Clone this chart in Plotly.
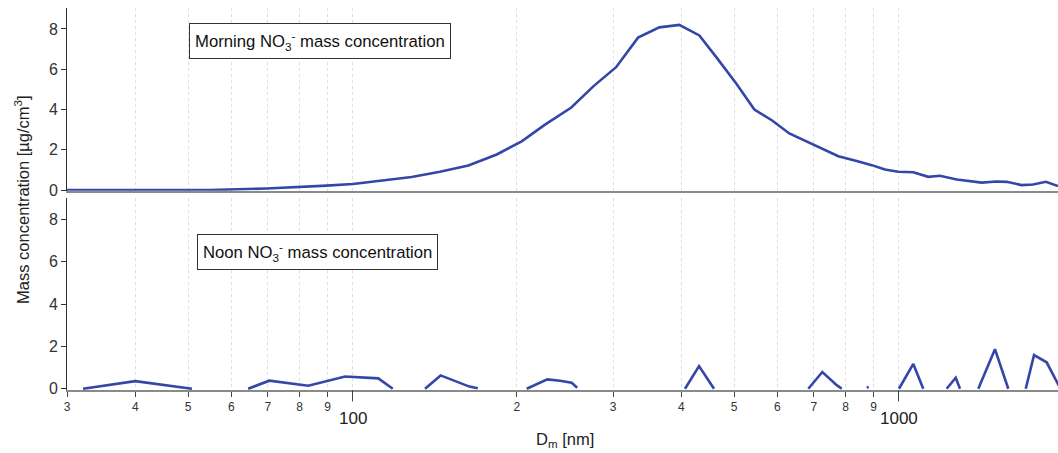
import math
import plotly.graph_objects as go
from plotly.subplots import make_subplots

# Morning NO3- mass size distribution (Dm in nm, mass in ug/cm3)
morning_dm = [30, 44.4, 54.8, 69.6, 80.1, 89.7, 100.2, 113.7, 128.3, 144.6, 163.0, 183.7,
              204.1, 225.2, 251.6, 276.1, 303.9, 333.4, 364.7, 396.7, 431.8, 465.2, 504.0,
              544.5, 586.0, 631.0, 698.2, 775.9, 838.3, 893.0, 944.7, 999.0, 1064.4, 1133.9,
              1191.0, 1278.3, 1420.5, 1512.6, 1577.7, 1681.0, 1763.0, 1862.0, 1959.5]
morning_mass = [0.0, 0.01, 0.0, 0.08, 0.15, 0.22, 0.30, 0.47, 0.65, 0.91, 1.22, 1.77,
                2.42, 3.25, 4.10, 5.15, 6.10, 7.57, 8.08, 8.20, 7.68, 6.55, 5.30,
                4.00, 3.47, 2.81, 2.26, 1.68, 1.44, 1.24, 1.02, 0.91, 0.89, 0.66,
                0.71, 0.53, 0.37, 0.43, 0.41, 0.25, 0.28, 0.41, 0.20]

# Noon NO3- mass size distribution; None marks missing bins
noon_dm = [32.1, 40.0, 50.8, None,
           64.4, 70.4, 83.0, 96.9, 111.5, 118.5, None,
           135.8, 145.0, 163.7, 169.6, None,
           208.5, 227.4, 240.0, 252.0, 257.9, None,
           406.4, 431.2, 459.3, None,
           683.6, 725.2, 770.7, 787.1, None,
           874.4, 882.0, None,
           1002.0, 1064.4, 1110.0, None,
           1225.0, 1273.0, 1296.0, None,
           1400.0, 1502.0, 1588.6, None,
           1710.0, 1771.0, 1867.6, 1980.0]
noon_mass = [0.0, 0.36, 0.0, None,
             0.0, 0.38, 0.14, 0.58, 0.49, 0.0, None,
             0.0, 0.63, 0.10, 0.02, None,
             0.0, 0.44, 0.38, 0.28, 0.05, None,
             0.0, 1.07, 0.0, None,
             0.0, 0.79, 0.17, 0.0, None,
             0.07, 0.07, None,
             0.0, 1.17, 0.0, None,
             0.0, 0.52, 0.0, None,
             0.0, 1.87, 0.0, None,
             0.0, 1.59, 1.25, 0.0]

# Axis ticks
x_tickvals = [30, 40, 50, 60, 70, 80, 90, 100, 200, 300, 400, 500, 600, 700, 800, 900, 1000]
x_ticktext = ["3", "4", "5", "6", "7", "8", "9", "", "2", "3", "4", "5", "6", "7", "8", "9", ""]
x_major = [100, 1000]
y_tickvals = [0, 2, 4, 6, 8]

LINE = "#3446a8"
FONT = "Liberation Sans, Arial, sans-serif"

fig = make_subplots(rows=2, cols=1, shared_xaxes=True, vertical_spacing=0.0)

fig.add_trace(go.Scatter(x=morning_dm, y=morning_mass, mode="lines",
                         line=dict(color=LINE, width=2.6), showlegend=False), row=1, col=1)
fig.add_trace(go.Scatter(x=noon_dm, y=noon_mass, mode="lines", connectgaps=False,
                         line=dict(color=LINE, width=2.6), showlegend=False), row=2, col=1)

xcommon = dict(type="log", range=[1.4771, 3.2921], tickvals=x_tickvals,
               showgrid=True, gridcolor="#dcdde9", griddash="dot", gridwidth=1,
               zeroline=False, showline=True, linecolor="#8a8a8a", linewidth=2)
ycommon = dict(tickvals=y_tickvals, ticks="outside", ticklen=5, tickcolor="#333",
               showgrid=False, zeroline=False, showline=True, linecolor="#333",
               linewidth=1, tickfont=dict(size=16, color="#333", family=FONT))
fig.update_layout(
    xaxis=dict(**xcommon, showticklabels=False, ticks="", domain=[0, 1]),
    xaxis2=dict(**xcommon, ticktext=x_ticktext, ticks="outside", ticklen=5,
                tickcolor="#444", tickwidth=1,
                tickfont=dict(size=12, color="#333", family=FONT)),
    yaxis=dict(**ycommon, domain=[0.5217, 1.0], range=[-0.03, 9.04]),
    yaxis2=dict(**ycommon, domain=[0.0, 0.5018], range=[-0.06, 9.0]),
    width=1058, height=453,
    margin=dict(l=67, r=0, t=8, b=63),
    plot_bgcolor="white", paper_bgcolor="white",
    font=dict(family=FONT, color="#222"),
)

# Long ticks and labels for the decades
for v in x_major:
    fig.add_shape(type="line", xref="x2", yref="paper", x0=v, x1=v, y0=0, y1=-0.03,
                  line=dict(color="#444", width=1))
    fig.add_annotation(x=math.log10(v), y=-0.0733, xref="x2", yref="paper",
                       text=str(v), showarrow=False, yanchor="middle",
                       font=dict(size=17, color="#222", family=FONT))

# Axis titles
fig.add_annotation(x=-0.0455, y=0.5, xref="paper", yref="paper", textangle=-90,
                   xanchor="center", yanchor="middle",
                   text="Mass concentration [µg/cm<sup>3</sup>]", showarrow=False,
                   font=dict(size=16.5, color="#222", family=FONT))
fig.add_annotation(x=0.503, y=-0.131, xref="paper", yref="paper", yanchor="middle",
                   text="D<sub>m</sub> [nm]", showarrow=False,
                   font=dict(size=16.5, color="#222", family=FONT))

# Panel labels
fig.add_annotation(x=0.1231, y=0.9607, xref="paper", yref="paper", xanchor="left",
                   yanchor="top", showarrow=False,
                   text="Morning NO<sub>3</sub><sup>-</sup> mass concentration",
                   bordercolor="#333", borderwidth=1, borderpad=5, bgcolor="white",
                   font=dict(size=16.7, color="#111", family=FONT))
fig.add_annotation(x=0.1312, y=0.4084, xref="paper", yref="paper", xanchor="left",
                   yanchor="top", showarrow=False,
                   text="Noon NO<sub>3</sub><sup>-</sup> mass concentration",
                   bordercolor="#333", borderwidth=1, borderpad=5, bgcolor="white",
                   font=dict(size=16.7, color="#111", family=FONT))

fig.write_html("out.html")
